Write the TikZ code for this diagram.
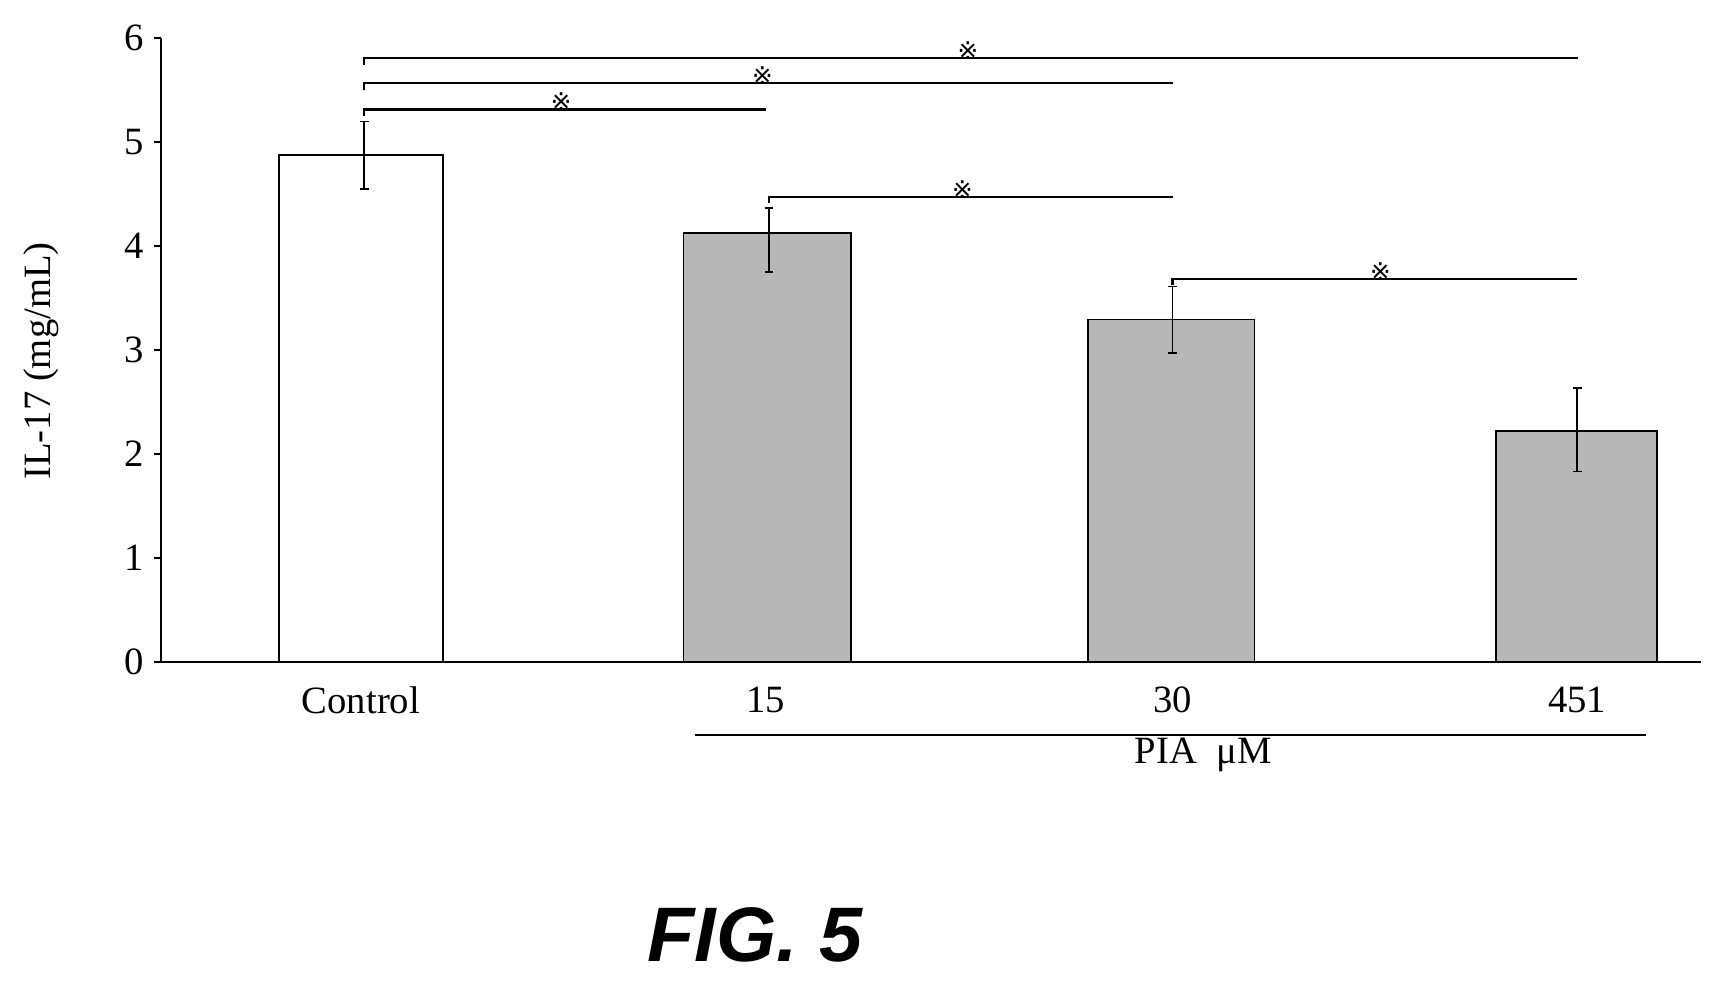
\documentclass[tikz,border=0pt]{standalone}
\usepackage{fontspec}
\setmainfont{Liberation Serif}
\newfontfamily\symf{DejaVu Sans}
\newfontfamily\figf{Liberation Sans}
\begin{document}
\begin{tikzpicture}[x=0.02188cm,y=-0.02188cm,
  axis/.style={line width=1.2pt},
  barw/.style={draw,line width=1pt,fill=white},
  barg/.style={draw,line width=1pt,fill=black!28},
  err/.style={line width=1pt},
  sig/.style={line width=1.3pt},
  lab/.style={font=\fontsize{22}{24}\selectfont},
  st/.style={font=\symf\fontsize{14}{14}\selectfont}]
\useasboundingbox (0,0) rectangle (1568,920);
% axes
\coordinate (o) at (147,605);
\coordinate (ytop) at (147,35);
\coordinate (xend) at (1555,605);
\draw[axis] (ytop) -- (o) -- (xend);
\foreach \v in {0,...,6}{
  \draw[axis] (147,605-95*\v) -- (141,605-95*\v);
  \node[lab,anchor=east] (t\v) at (137,605-95*\v) {\v};
}
\node[lab,rotate=90] (ylab) at (38,330) {IL-17 (mg/mL)};
% bars
\draw[barw] (255,605) rectangle (405,142);
\draw[barg] (625,605) rectangle (778,213);
\draw[barg] (995,605) rectangle (1147,292);
\draw[barg] (1368,605) rectangle (1515,394);
% error bars
\foreach \x/\a/\b in {333/173/111, 703/249/190, 1072/323/262, 1442/431/355}{
  \draw[err] (\x,\a) -- (\x,\b);
  \draw[err] (\x-4,\a) -- (\x+4,\a);
  \draw[err] (\x-4,\b) -- (\x+4,\b);
}
% category labels
\node[lab] (c0) at (330,640) {Control};
\node[lab] (c1) at (700,640) {15};
\node[lab] (c2) at (1072,640) {30};
\node[lab] (c3) at (1442,640) {451};
\coordinate (ua) at (635,672);
\coordinate (ub) at (1505,672);
\draw[sig] (ua) -- (ub);
\node[lab] (pia) at (1100,690) {PIA\ \ μM};
% significance
\foreach \ya/\xa/\xb/\xs in {53/333/1443/885, 76/333/1072/697, 100/333/700/513, 180/703/1072/880, 255/1072/1442/1262}{
  \draw[sig] (\xa,\ya+6) -- (\xa,\ya) -- (\xb,\ya);
  \node[st] at (\xs,\ya-7) {※};
}
\node[font=\figf\bfseries\itshape\fontsize{44}{44}\selectfont] (fig) at (690,855) {FIG. 5};
\end{tikzpicture}
\end{document}
